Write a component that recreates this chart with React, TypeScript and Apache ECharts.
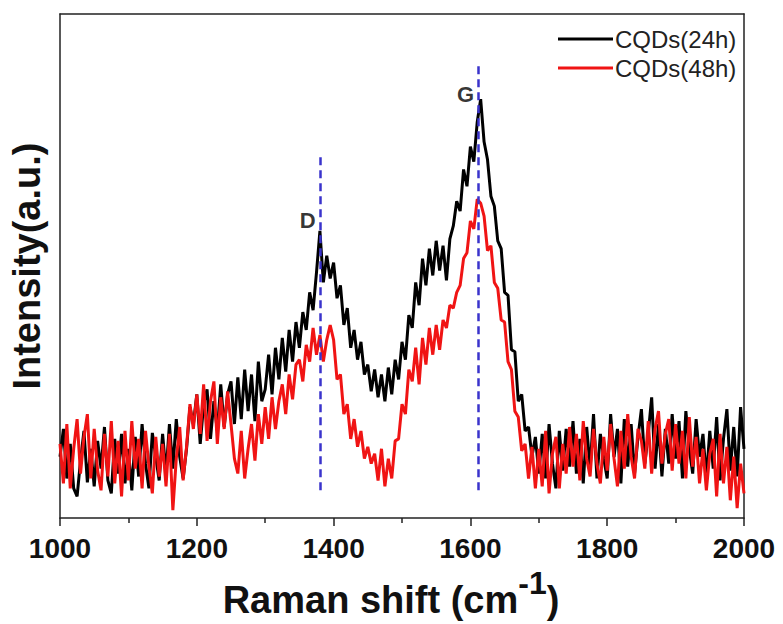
import React, { useEffect, useRef } from "react";
import * as echarts from "echarts";

// Raman shift grid, 1000..2000 cm-1 every 5 cm-1
const wavenumbers: number[] = Array.from({ length: 201 }, (_, i) => 1000 + 5 * i);

// Intensity (a.u.)
const cqds24h: number[] = [
  62, 90, 40, 75, 30, 22, 58, 88, 36, 70,
  32, 78, 50, 92, 38, 25, 80, 45, 85, 35,
  70, 28, 82, 42, 95, 55, 30, 86, 62, 38,
  85, 45, 95, 50, 100, 62, 40, 70, 112, 95,
  125, 75, 115, 130, 80, 118, 88, 135, 92, 125,
  138, 95, 142, 100, 150, 108, 145, 98, 158, 118,
  130, 165, 125, 172, 140, 182, 148, 190, 158, 198,
  172, 208, 190, 228, 210, 248, 290, 238, 265, 242,
  258, 222, 235, 195, 212, 172, 190, 160, 178, 145,
  155, 128, 150, 122, 145, 118, 152, 125, 160, 140,
  178, 160, 205, 192, 238, 215, 262, 235, 272, 245,
  280, 250, 275, 240, 282, 295, 320, 310, 352, 335,
  375, 360, 400, 423, 380, 362, 325, 315, 280, 272,
  228, 225, 170, 168, 118, 125, 88, 92, 62, 82,
  45, 85, 40, 95, 55, 30, 88, 48, 90, 52,
  98, 45, 80, 35, 92, 50, 105, 40, 85, 60,
  40, 105, 62, 90, 35, 100, 52, 95, 45, 82,
  110, 55, 85, 122, 50, 95, 42, 90, 55, 105,
  60, 98, 40, 108, 70, 45, 100, 62, 85, 40,
  88, 50, 102, 38, 80, 110, 48, 92, 42, 112,
  70,
];

const cqds48h: number[] = [
  75, 35, 95, 30, 70, 100, 45, 82, 105, 40,
  90, 48, 28, 85, 42, 98, 35, 78, 22, 88,
  38, 98, 50, 80, 30, 88, 52, 25, 82, 42,
  75, 32, 85, 8, 60, 92, 38, 72, 115, 90,
  125, 85, 135, 78, 118, 138, 75, 122, 90, 128,
  95, 60, 45, 88, 40, 70, 95, 58, 105, 75,
  112, 80, 122, 90, 118, 135, 105, 145, 120, 155,
  160, 138, 175, 158, 192, 165, 185, 158, 180, 195,
  180, 140, 145, 105, 115, 80, 100, 72, 88, 60,
  72, 55, 65, 38, 70, 32, 60, 40, 78, 80,
  115, 105, 150, 138, 172, 135, 182, 155, 192, 165,
  195, 170, 200, 192, 215, 212, 228, 235, 262, 268,
  300, 292, 322, 318, 305, 270, 275, 238, 232, 200,
  198, 158, 150, 108, 102, 68, 75, 40, 72, 30,
  70, 32, 88, 25, 65, 82, 30, 75, 45, 92,
  52, 85, 38, 98, 60, 42, 90, 55, 35, 82,
  48, 95, 60, 32, 88, 50, 105, 62, 40, 90,
  78, 50, 98, 45, 90, 108, 55, 85, 100, 48,
  95, 55, 88, 40, 102, 52, 82, 35, 70, 28,
  65, 80, 22, 85, 35, 72, 18, 62, 10, 55,
  25,
];

const seriesNames = ["CQDs(24h)", "CQDs(48h)"];

// Peak markers: name, position of dashed guide line, and label anchor
const peakNames = ["D", "G"];
const peakShift = [1380, 1612];
const peakLineTop = [365, 461];
const peakLineBottom = [28, 28];
const peakLabelX = [1362, 1593];
const peakLabelY = [300, 428];

const xTicks = { min: 1000, max: 2000, interval: 200 };
const yRange = { min: 0, max: 509 };

const FONT = "Liberation Sans, Arial, sans-serif";

export default function App() {
  const ref = useRef<HTMLDivElement>(null);

  useEffect(() => {
    if (!ref.current) return;
    const chart = echarts.init(ref.current, null, { renderer: "svg" });

    const black = wavenumbers.map((w, i) => [w, cqds24h[i]]);
    const red = wavenumbers.map((w, i) => [w, cqds48h[i]]);

    chart.setOption({
      animation: false,
      backgroundColor: "#ffffff",
      grid: { left: 58, right: 39, top: 14, bottom: 101, containLabel: false },
      legend: {
        data: seriesNames,
        orient: "vertical",
        left: 553,
        top: 22,
        icon: "rect",
        itemWidth: 55,
        itemHeight: 3,
        itemGap: 5,
        textStyle: { fontSize: 24, color: "#222", fontFamily: FONT, padding: [0, 0, 0, -3] },
      },
      xAxis: [
        {
          type: "value",
          position: "bottom",
          min: xTicks.min,
          max: xTicks.max,
          interval: xTicks.interval,
          axisLine: { show: true, onZero: false, lineStyle: { color: "#222", width: 1.5 } },
          axisTick: { show: true, inside: false, length: 8, lineStyle: { color: "#222", width: 1.5 } },
          minorTick: { show: true, splitNumber: 2, length: 5, lineStyle: { color: "#222", width: 1.5 } },
          splitLine: { show: false },
          axisLabel: {
            show: true,
            margin: 16,
            fontSize: 28,
            fontWeight: "bold",
            color: "#111",
            fontFamily: FONT,
            formatter: (v: number) => String(v),
          },
          name: "{a|Raman shift (cm}{s|-1}{b|)}",
          nameLocation: "middle",
          nameGap: 46,
          nameTextStyle: {
            fontFamily: FONT,
            rich: {
              a: { fontSize: 38, fontWeight: "bold", color: "#111", fontFamily: FONT, verticalAlign: "bottom" },
              b: {
                fontSize: 38,
                fontWeight: "bold",
                color: "#111",
                fontFamily: FONT,
                verticalAlign: "bottom",
                padding: [0, 22, 0, 0],
              },
              s: {
                fontSize: 32,
                fontWeight: "bold",
                color: "#111",
                fontFamily: FONT,
                verticalAlign: "bottom",
                padding: [0, 0, 20, 0],
              },
            },
          },
        },
        {
          type: "value",
          position: "top",
          min: xTicks.min,
          max: xTicks.max,
          axisLine: { show: true, onZero: false, lineStyle: { color: "#222", width: 1.5 } },
          axisTick: { show: false },
          axisLabel: { show: false },
          splitLine: { show: false },
        },
      ],
      yAxis: [
        {
          type: "value",
          position: "left",
          min: yRange.min,
          max: yRange.max,
          axisLine: { show: true, onZero: false, lineStyle: { color: "#222", width: 1.5 } },
          axisTick: { show: false },
          axisLabel: { show: false },
          splitLine: { show: false },
          name: "Intensity(a.u.)",
          nameLocation: "middle",
          nameGap: 14,
          nameTextStyle: { fontSize: 38, fontWeight: "bold", color: "#111", fontFamily: FONT },
        },
        {
          type: "value",
          position: "right",
          min: yRange.min,
          max: yRange.max,
          axisLine: { show: true, onZero: false, lineStyle: { color: "#222", width: 1.5 } },
          axisTick: { show: false },
          axisLabel: { show: false },
          splitLine: { show: false },
        },
      ],
      series: [
        {
          name: seriesNames[0],
          type: "line",
          data: black,
          symbol: "none",
          lineStyle: { color: "#000000", width: 3 },
          itemStyle: { color: "#000000" },
          z: 2,
        },
        {
          name: seriesNames[1],
          type: "line",
          data: red,
          symbol: "none",
          lineStyle: { color: "#f01414", width: 3 },
          itemStyle: { color: "#f01414" },
          z: 3,
          markLine: {
            silent: true,
            symbol: "none",
            label: { show: false },
            lineStyle: { color: "#3a33cc", width: 2.5, type: [8, 5] },
            data: peakShift.map((s, i) => [
              { coord: [s, peakLineBottom[i]] },
              { coord: [s, peakLineTop[i]] },
            ]),
          },
        },
        {
          name: "peaks",
          type: "scatter",
          symbolSize: 0,
          z: 5,
          data: peakNames.map((n, i) => ({ name: n, value: [peakLabelX[i], peakLabelY[i]] })),
          label: {
            show: true,
            position: "inside",
            formatter: "{b}",
            fontSize: 22,
            fontWeight: "bold",
            color: "#000",
            fontFamily: FONT,
          },
        },
      ],
    });

    return () => chart.dispose();
  }, []);

  return (
    <div
      ref={ref}
      style={{ position: "fixed", left: 0, top: 0, width: 783, height: 624, background: "#fff" }}
    />
  );
}
